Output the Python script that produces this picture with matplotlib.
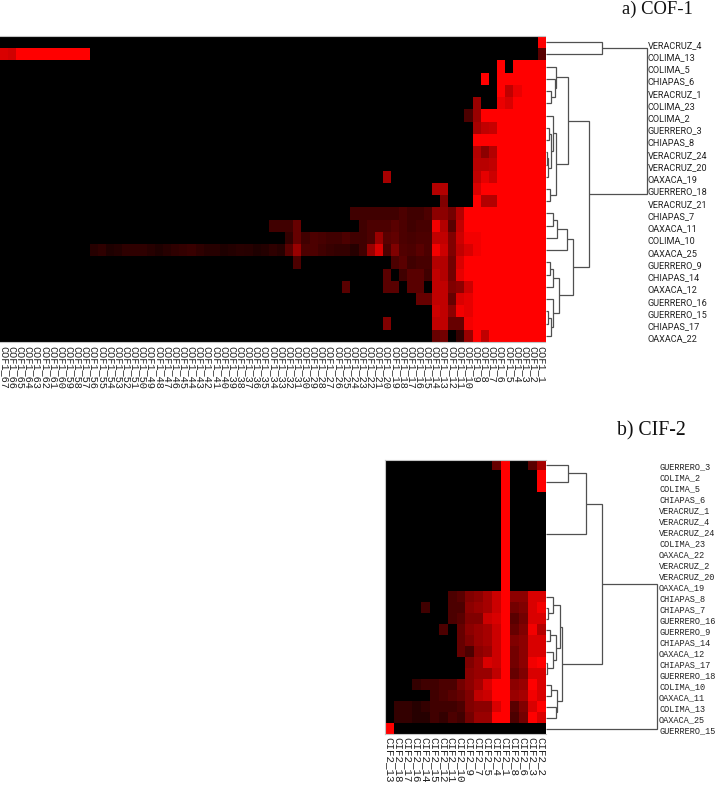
import matplotlib
matplotlib.use("Agg")
import logging
import numpy as np
import matplotlib.pyplot as plt
from matplotlib.colors import LinearSegmentedColormap

logging.getLogger("matplotlib.font_manager").setLevel(logging.ERROR)

FIG_W, FIG_H = 717, 788

# ---------------- a) COF-1 ----------------
cof_columns = [f"COF1_{n}" for n in range(67, 0, -1)]
cof_labels = ["VERACRUZ_4", "COLIMA_13", "COLIMA_5", "CHIAPAS_6", "VERACRUZ_1", "COLIMA_23", "COLIMA_2",
              "GUERRERO_3", "CHIAPAS_8", "VERACRUZ_24", "VERACRUZ_20", "OAXACA_19", "GUERRERO_18",
              "VERACRUZ_21", "CHIAPAS_7", "OAXACA_11", "COLIMA_10", "OAXACA_25", "GUERRERO_9",
              "CHIAPAS_14", "OAXACA_12", "GUERRERO_16", "GUERRERO_15", "CHIAPAS_17", "OAXACA_22"]
# intensity (0-100) of the 20 right-hand columns, COF1_20 ... COF1_1
cof_right = [
    [0]*19 + [100],
    [0]*19 + [35],
    [0]*14 + [100, 0, 100, 100, 100, 100],
    [0]*12 + [100, 0] + [100]*6,
    [0]*14 + [100, 75, 92, 100, 100, 100],
    [0]*11 + [60, 0, 0, 92, 85, 100, 100, 100, 100],
    [0]*10 + [30, 60] + [100]*8,
    [0]*11 + [65, 75, 78] + [100]*6,
    [0]*11 + [100]*9,
    [0]*11 + [70, 55, 70] + [100]*6,
    [0]*11 + [72, 72, 75] + [100]*6,
    [65] + [0]*10 + [75, 90, 80] + [100]*6,
    [0]*6 + [70, 70, 0, 0, 0, 85] + [100]*8,
    [0]*7 + [50, 0, 0, 0, 100, 70, 70] + [100]*6,
    [25, 25, 30, 25, 25, 30, 55, 55, 45, 70] + [100]*10,
    [30, 35, 30, 25, 28, 28, 95, 70, 35, 75] + [100]*10,
    [35, 38, 30, 28, 30, 30, 75, 75, 50, 80, 95, 95] + [100]*8,
    [30, 50, 32, 30, 35, 30, 95, 80, 50, 75, 85, 95] + [100]*8,
    [0, 30, 35, 25, 28, 28, 70, 70, 45, 85] + [100]*10,
    [35, 0, 25, 35, 35, 25, 75, 70, 45, 90] + [100]*10,
    [35, 35, 0, 35, 35, 0, 75, 75, 50, 55, 80] + [100]*9,
    [0, 0, 0, 0, 40, 40, 75, 75, 40, 85, 90] + [100]*9,
    [0]*6 + [80, 75, 55, 95, 90] + [100]*9,
    [50, 0, 0, 0, 0, 0, 75, 75, 40, 40, 95] + [100]*9,
    [0]*6 + [40, 45, 0, 20, 60, 100, 75] + [100]*7,
]
# remaining non-black runs further left: row -> (first column index, intensities)
cof_left = {
    1: (0, [85, 82, 100, 100, 100, 100, 100, 100, 100, 100, 100]),
    14: (43, [25, 25, 25, 25]),
    15: (33, [25, 25, 25, 40, 0, 0, 0, 0, 0, 0, 0, 25, 30, 30]),
    16: (35, [20, 40, 25, 30, 28, 25, 25, 30, 25, 25, 30, 60]),
    17: (11, [15, 18, 12, 14, 18, 18, 18, 15, 12, 15, 18, 20, 22, 18, 15, 15, 12, 14, 16, 15, 12, 14, 18, 15,
              35, 60, 30, 30, 25, 22, 20, 20, 15, 25, 60, 85]),
    18: (36, [30]),
    20: (42, [35]),
}
# dendrogram: (merge height, child, child); leaves are row numbers
cof_tree = (101.8,
            (56.2, 0, 1),
            (43.5,
             (22.2,
              (10.5, 2, (9.5, 3, (5.2, 4, 5))),
              (10.2,
               (7.2, 6, (5.2, (3.0, 7, 8), (2.5, (1.8, 9, 10), 11))),
               (4.5, 12, 13))),
             (27.8,
              (21.0, (11.8, (7.2, 14, 15), 16), 17),
              (13.8,
               (7.7, (4.5, 18, 19), 20),
               (7.2, 21, (5.2, (2.8, 22, 23), 24))))))

# ---------------- b) CIF-2 ----------------
cif_columns = [f"CIF2_{n}" for n in [13, 18, 17, 16, 14, 15, 12, 11, 10, 9, 7, 5, 4, 1, 8, 6, 3, 2]]
cif_labels = ["GUERRERO_3", "COLIMA_2", "COLIMA_5", "CHIAPAS_6", "VERACRUZ_1", "VERACRUZ_4", "VERACRUZ_24",
              "COLIMA_23", "OAXACA_22", "VERACRUZ_2", "VERACRUZ_20", "OAXACA_19", "CHIAPAS_8", "CHIAPAS_7",
              "GUERRERO_16", "GUERRERO_9", "CHIAPAS_14", "OAXACA_12", "CHIAPAS_17", "GUERRERO_18",
              "COLIMA_10", "OAXACA_11", "COLIMA_13", "OAXACA_25", "GUERRERO_15"]
cif_values = [
    [0]*12 + [40, 100, 0, 0, 35, 65],
    [0]*13 + [100, 0, 0, 0, 100],
    [0]*13 + [100, 0, 0, 0, 100],
    [0]*13 + [100, 0, 0, 0, 0],
    [0]*13 + [100, 0, 0, 0, 0],
    [0]*13 + [100, 0, 0, 0, 0],
    [0]*13 + [100, 0, 0, 0, 0],
    [0]*13 + [100, 0, 0, 0, 0],
    [0]*13 + [100, 0, 0, 0, 0],
    [0]*13 + [100, 0, 0, 0, 0],
    [0]*13 + [100, 0, 0, 0, 0],
    [0]*13 + [100, 0, 0, 0, 0],
    [0]*7 + [30, 35, 50, 55, 65, 80, 100, 55, 55, 85, 85],
    [0, 0, 0, 0, 25, 0, 0, 30, 30, 55, 60, 65, 80, 100, 45, 50, 85, 95],
    [0]*7 + [30, 35, 50, 50, 80, 85, 100, 35, 45, 85, 85],
    [0]*6 + [30, 0, 40, 55, 60, 65, 80, 100, 40, 50, 95, 70],
    [0]*8 + [40, 50, 60, 65, 80, 100, 50, 55, 85, 85],
    [0]*8 + [40, 30, 55, 60, 80, 100, 45, 55, 85, 85],
    [0]*9 + [50, 60, 85, 80, 100, 45, 55, 95, 100],
    [0]*9 + [55, 60, 60, 75, 100, 40, 50, 85, 85],
    [0, 0, 0, 20, 25, 25, 30, 30, 45, 55, 65, 85, 100, 100, 55, 60, 100, 85],
    [0, 0, 0, 0, 0, 25, 30, 35, 40, 50, 75, 80, 100, 100, 60, 65, 95, 85],
    [0, 20, 20, 15, 20, 25, 25, 25, 30, 50, 55, 55, 85, 100, 35, 50, 85, 100],
    [0, 20, 20, 15, 15, 25, 20, 30, 25, 45, 60, 60, 100, 100, 30, 45, 100, 85],
    [100] + [0]*17,
]
cif_tree = (111.8,
            (56.2,
             (40.2,
              (22.8, 0, (0, 1, 2)),
              (0, (0, 3, (0, 4, (0, 5, 6))), (0, (0, 7, 8), (0, 9, (0, 10, 11))))),
             (16.2,
              (14.5,
               (7.8, 12, (2.8, 13, 14)),
               (10.2, (4.5, 15, 16), (7.2, 17, (1.2, 18, 19)))),
              (11.8, (5.5, 20, 21), (10.2, 22, 23)))),
            24)

titles = ["a) COF-1", "b) CIF-2"]


def px_axes(x0, y0, x1, y1):
    return fig.add_axes([x0 / FIG_W, 1 - y1 / FIG_H, (x1 - x0) / FIG_W, (y1 - y0) / FIG_H])


def draw_tree(ax, node):
    """Returns the row position of a node, drawing it and its children."""
    if not isinstance(node, tuple):
        return float(node), 0.0
    h, a, b = node
    ya, ha = draw_tree(ax, a)
    yb, hb = draw_tree(ax, b)
    if h > 0:
        ax.plot([ha, h, h, hb], [ya, ya, yb, yb], color=LINE, lw=0.9, solid_joinstyle="miter",
                solid_capstyle="butt", clip_on=False)
    return (ya + yb) / 2, h


def panel(matrix, columns, labels, tree, heat_box, dend_right, label_x, label_shift,
          tick_size, tick_pad, label_font, label_size, hidden_spines):
    x0, y0, x1, y1 = heat_box
    ax = px_axes(x0, y0, x1, y1)
    ax.imshow(matrix, cmap=CMAP, vmin=0, vmax=100, aspect="auto", interpolation="nearest")
    ax.set_yticks([])
    ax.set_xticks(range(len(columns)))
    ax.set_xticklabels(columns, rotation=270, family="Liberation Mono", fontsize=tick_size,
                       color="#222222", ha="center", va="top")
    ax.tick_params(axis="x", length=0, pad=tick_pad)
    for name, s in ax.spines.items():
        s.set_color("#c4c4c4")
        s.set_linewidth(0.8)
        s.set_visible(name not in hidden_spines)

    dend = px_axes(x1, y0, dend_right, y1)
    dend.set_xlim(0, dend_right - x1)
    dend.set_ylim(len(labels) - 0.5, -0.5)
    dend.axis("off")
    draw_tree(dend, tree)
    for r, name in enumerate(labels):
        dend.text(label_x - x1, r + label_shift, name, family=label_font, fontsize=label_size,
                  color="#222222", va="center", ha="left", clip_on=False)


LINE = "#505050"
CMAP = LinearSegmentedColormap.from_list("black_red", ["#000000", "#ff0000"])

cof_matrix = np.zeros((len(cof_labels), len(cof_columns)))
cof_matrix[:, -20:] = np.array(cof_right)
for row, (start, vals) in cof_left.items():
    cof_matrix[row, start:start + len(vals)] = vals
cif_matrix = np.array(cif_values, dtype=float)

fig = plt.figure(figsize=(FIG_W / 100, FIG_H / 100), dpi=100, facecolor="white")

panel(cof_matrix, cof_columns, cof_labels, cof_tree, (0, 36, 545.5, 342), 717, 648, 0.25,
      7.4, 3.0, "Roboto", 6.6, ("left", "right"))
panel(cif_matrix, cif_columns, cif_labels, cif_tree, (384.7, 459.7, 545.5, 734.3), 717, 659, 0.15,
      7.8, 2.0, "Liberation Mono", 6.2, ("right",))

fig.text(622 / FIG_W, 1 - 9 / FIG_H, titles[0], family="Liberation Serif", fontsize=13.4,
         color="#111111", va="center", ha="left")
fig.text(617 / FIG_W, 1 - 431 / FIG_H, titles[1], family="Liberation Serif", fontsize=14.2,
         color="#111111", va="center", ha="left")

fig.savefig("out.png", dpi=100, facecolor="white")
